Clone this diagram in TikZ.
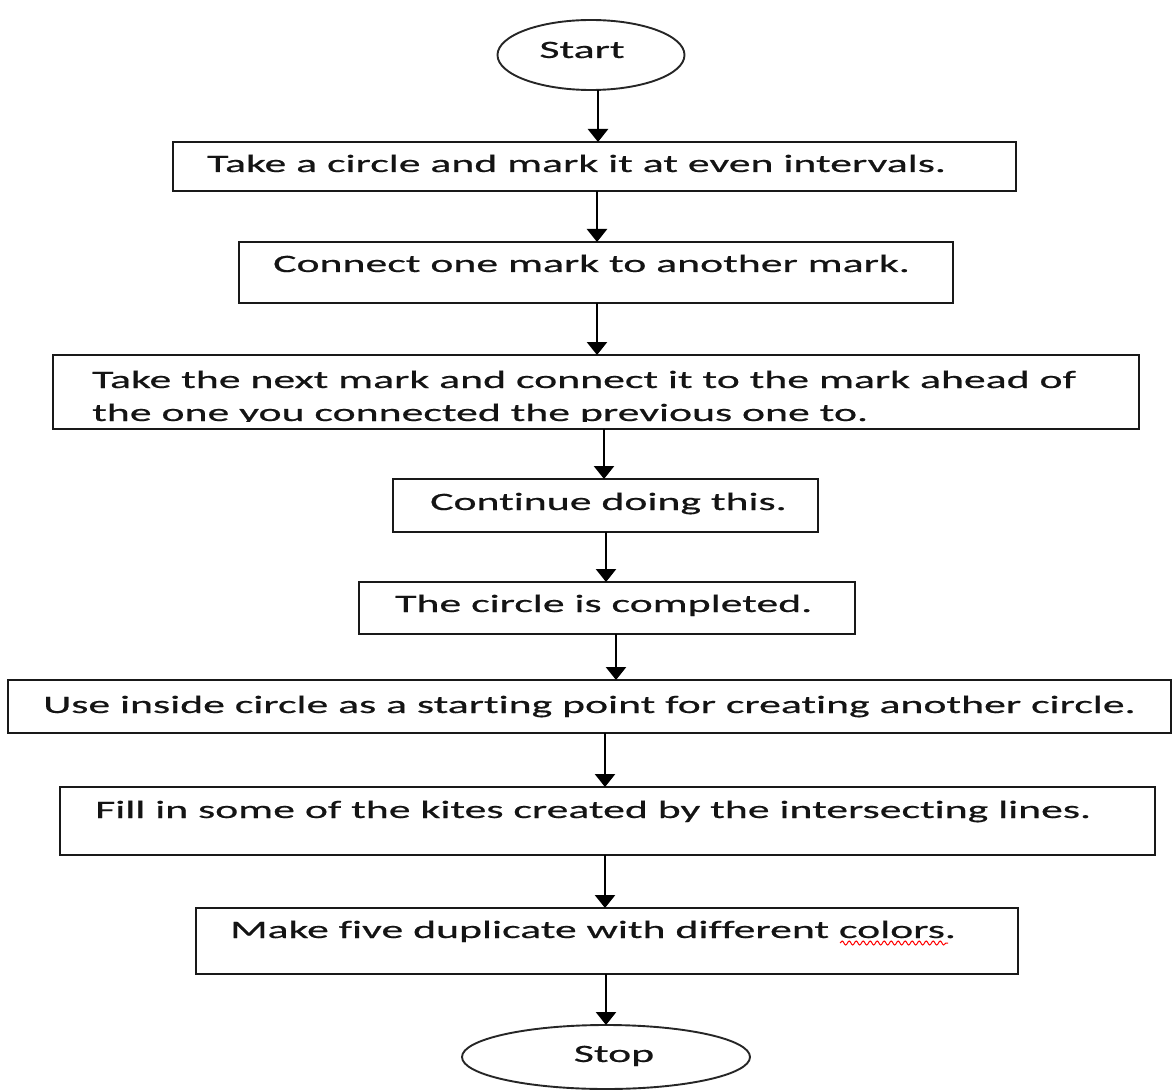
\documentclass[tikz,border=0pt]{standalone}
\usepackage{fontspec}
\setmainfont{Carlito}[FakeStretch=1.75,FakeBold=0.6,Ligatures=NoCommon]
\usetikzlibrary{arrows.meta,shapes.geometric,decorations.pathmorphing}
\begin{document}
\begin{tikzpicture}[x=1pt,y=-1pt,
  stepbox/.style={draw=black!90, line width=2.1pt, anchor=north west, inner sep=0pt, outer sep=0pt},
  term/.style={ellipse, draw=black!85, line width=1.9pt, inner sep=0pt, outer sep=0pt},
  txt/.style={anchor=base west, inner sep=0pt, text=black!92, font=\fontsize{25}{30}\selectfont},
  ctxt/.style={anchor=base, inner sep=0pt, text=black!92, font=\fontsize{25}{30}\selectfont},
  arr/.style={draw=black, line width=2.6pt, -{Triangle[width=20pt,length=13pt]}}]
\useasboundingbox (0,0) rectangle (1175,1091);
% terminals
\node[term, minimum width=187pt, minimum height=70pt] (start) at (591,55) {};
\node[ctxt] (tstart) at (582,58) {Start};
\node[term, minimum width=288pt, minimum height=64pt] (stop) at (606,1057) {};
\node[ctxt] (tstop) at (614,1062) {Stop};
% boxes
\node[stepbox, minimum width=843pt, minimum height=49pt] (b1) at (173,142) {};
\node[stepbox, minimum width=714pt, minimum height=61pt] (b2) at (239,242) {};
\node[stepbox, minimum width=1086pt, minimum height=74pt] (b3) at (53,355) {};
\node[stepbox, minimum width=425pt, minimum height=53pt] (b4) at (393,479) {};
\node[stepbox, minimum width=496pt, minimum height=52pt] (b5) at (359,582) {};
\node[stepbox, minimum width=1163pt, minimum height=53pt] (b6) at (8,680) {};
\node[stepbox, minimum width=1095pt, minimum height=68pt] (b7) at (60,787) {};
\node[stepbox, minimum width=822pt, minimum height=66pt] (b8) at (196,908) {};
% texts
\node[txt] (t1) at (207,172) {Take a circle and mark it at even intervals.};
\node[txt] (t2) at (273,272) {Connect one mark to another mark.};
\node[txt] (t3a) at (92,388) {Take the next mark and connect it to the mark ahead of};
\begin{scope}
\clip (53,355) rectangle (1139,421.5);
\node[txt] (t3b) at (92,421) {the one you connected the previous one to.};
\end{scope}
\node[txt] (t4) at (430,510) {Continue doing this.};
\node[txt] (t5) at (395,612) {The circle is completed.};
\node[txt] (t6) at (43,713) {Use inside circle as a starting point for creating another circle.};
\node[txt] (t7) at (95,818) {Fill in some of the kites created by the intersecting lines.};
\node[txt] (t8) at (230,938) {Make five duplicate with different colors.};
\draw[red, line width=1pt, decorate, decoration={snake, amplitude=2pt, segment length=7pt}] (840,943) -- (948,943);
% arrow columns
\coordinate (c1) at (598,0);
\coordinate (c2) at (597,0);
\coordinate (c3) at (604,0);
\coordinate (c4) at (606,0);
\coordinate (c5) at (616,0);
\coordinate (c6) at (605,0);
% connectors
\draw[arr] (c1 |- start.south) -- (c1 |- b1.north);
\draw[arr] (c2 |- b1.south) -- (c2 |- b2.north);
\draw[arr] (c2 |- b2.south) -- (c2 |- b3.north);
\draw[arr] (c3 |- b3.south) -- (c3 |- b4.north);
\draw[arr] (c4 |- b4.south) -- (c4 |- b5.north);
\draw[arr] (c5 |- b5.south) -- (c5 |- b6.north);
\draw[arr] (c6 |- b6.south) -- (c6 |- b7.north);
\draw[arr] (c6 |- b7.south) -- (c6 |- b8.north);
\draw[arr] (c4 |- b8.south) -- (c4 |- stop.north);
\end{tikzpicture}
\end{document}
